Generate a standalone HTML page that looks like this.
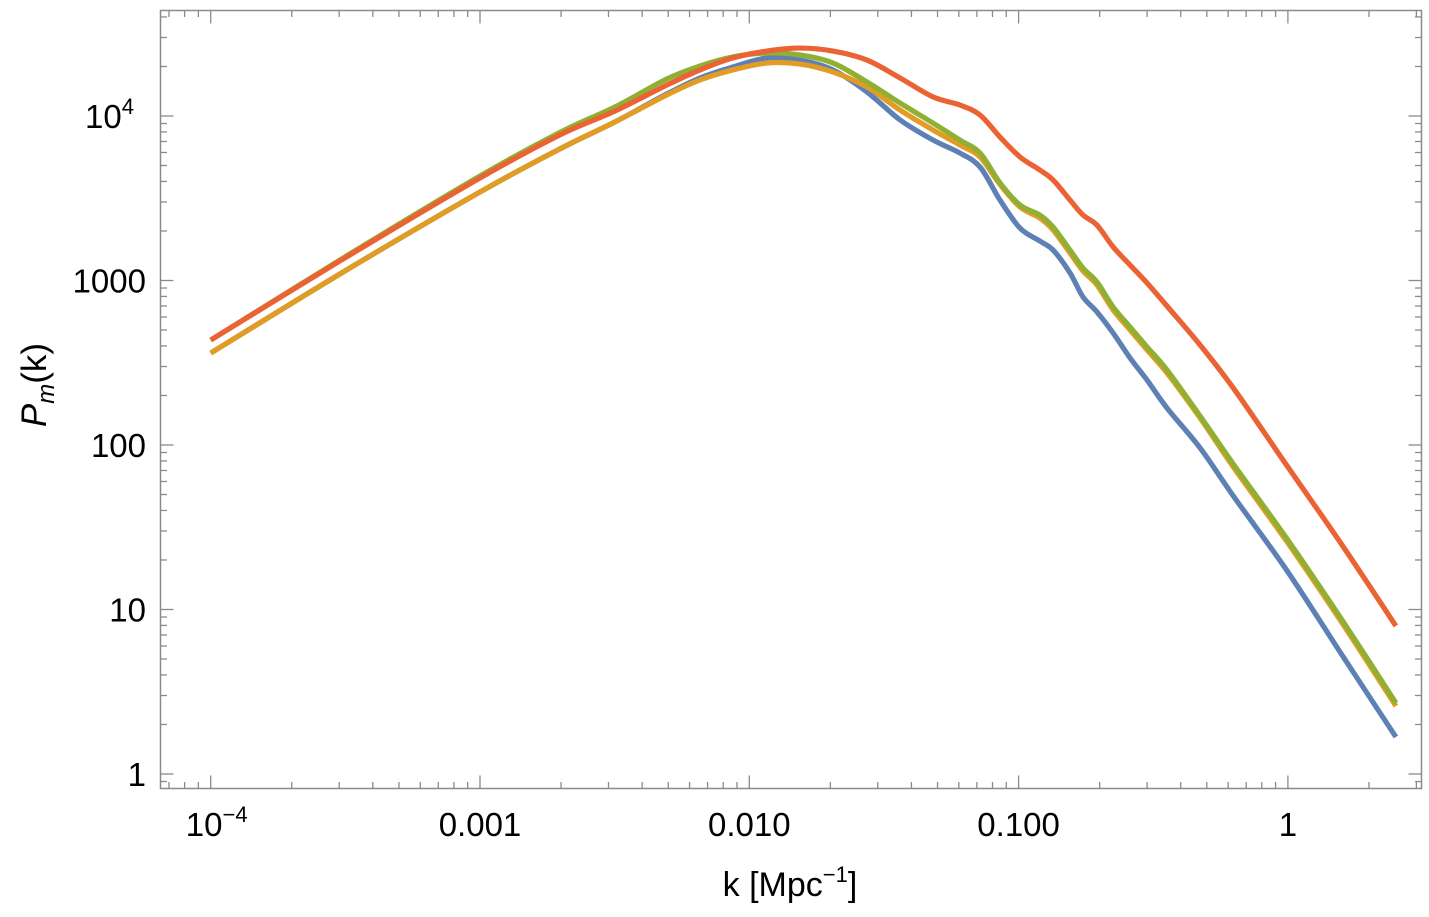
<!DOCTYPE html>
<html><head><meta charset="utf-8"><style>
html,body{margin:0;padding:0;background:#fff}
svg text{font-family:"Liberation Sans",Arial,sans-serif;fill:#000}
</style></head><body>
<svg id="chart" width="1429" height="912" viewBox="0 0 1429 912" xmlns="http://www.w3.org/2000/svg">
<rect x="0" y="0" width="1429" height="912" fill="#fff"/>
<g id="ticks"></g>
<g id="series"></g>
<rect x="160.5" y="10.5" width="1261" height="778" fill="none" stroke="#8a8a8a" stroke-width="1.5"/>
<g id="labels"></g>
<text x="790" y="896" font-size="34" text-anchor="middle">k [Mpc<tspan font-size="22" dy="-14">−1</tspan><tspan dy="14">]</tspan></text>
<text transform="translate(46,385) rotate(-90)" font-size="35" text-anchor="middle"><tspan font-style="italic">P</tspan><tspan font-style="italic" font-size="24" dy="8">m</tspan><tspan dy="-8">(k)</tspan></text>
</svg>
<script>
const kValues = [1e-4,3.15e-4,1e-3,1.98e-3,3.17e-3,4.94e-3,6.56e-3,8.69e-3,0.01164,0.01542,0.02046,0.02735,0.0363,0.0481,0.0605,0.0719,0.0853,0.1012,0.1199,0.1343,0.1552,0.1734,0.1954,0.2244,0.2594,0.2999,0.3556,0.472,0.631,1,1.589,2.518];
const log10P_blue = [2.559,3.058,3.538,3.800,3.964,4.134,4.231,4.298,4.353,4.340,4.280,4.146,3.976,3.854,3.775,3.690,3.489,3.319,3.240,3.185,3.046,2.900,2.809,2.681,2.529,2.395,2.225,1.982,1.684,1.228,0.723,0.225];
const log10P_orange = [2.559,3.058,3.538,3.800,3.964,4.128,4.219,4.280,4.322,4.316,4.267,4.176,4.036,3.915,3.824,3.751,3.584,3.447,3.380,3.307,3.167,3.058,2.973,2.821,2.699,2.578,2.438,2.164,1.860,1.404,0.918,0.413];
const log10P_green = [2.638,3.143,3.635,3.900,4.055,4.225,4.304,4.359,4.383,4.371,4.322,4.207,4.079,3.957,3.854,3.775,3.593,3.459,3.398,3.325,3.185,3.076,2.991,2.839,2.717,2.596,2.456,2.176,1.878,1.422,0.936,0.432];
const log10P_red = [2.638,3.137,3.623,3.885,4.030,4.188,4.280,4.353,4.395,4.413,4.395,4.340,4.231,4.116,4.067,4.006,3.872,3.751,3.672,3.611,3.489,3.398,3.337,3.204,3.094,2.985,2.845,2.608,2.340,1.866,1.392,0.900];
const xTickValues = [1e-4,1e-3,1e-2,1e-1,1];
const xTickLabels = ["10^-4","0.001","0.010","0.100","1"];
const yTickValues = [1,10,100,1000,10000];
const yTickLabels = ["1","10","100","1000","10^4"];

const NS="http://www.w3.org/2000/svg";
const X0=160.5,X1=1421.5,Y0=10.5,Y1=788.5;
function xScale(k){return 210.7+(Math.log10(k)+4)*269.3;}
function yScaleLog(lp){return 774-lp*164.5;}
function yScale(p){return yScaleLog(Math.log10(p));}
function mk(tag,attrs,parent){const e=document.createElementNS(NS,tag);for(const a in attrs)e.setAttribute(a,attrs[a]);parent.appendChild(e);return e;}

const tg=document.getElementById('ticks');
function tick(x1,y1,x2,y2,name){const l=mk('line',{x1:x1,y1:y1,x2:x2,y2:y2,stroke:'#8a8a8a','stroke-width':1.3},tg);

}
for(let e=-5;e<=0;e++){for(let m=1;m<=9;m++){const k=m*Math.pow(10,e);const x=xScale(k);if(x<X0+1||x>X1-1)continue;const L=m===1?13:6.5;
tick(x,Y1,x,Y1-L,'x-tick');tick(x,Y0,x,Y0+L,'x-tick-top');}}
for(let e=-1;e<=4;e++){for(let m=1;m<=9;m++){const p=m*Math.pow(10,e);const y=yScale(p);if(y<Y0+1||y>Y1-1)continue;const L=m===1?13:6.5;
tick(X0,y,X0+L,y,'y-tick');tick(X1,y,X1-L,y,'y-tick-right');}}

const lg=document.getElementById('labels');
function addLabel(str,x,y,anchor,name){const t=mk('text',{x:x,y:y,'font-size':33,'text-anchor':anchor},lg);


if(str.indexOf('^')>=0){const [b,s]=str.split('^');const a=document.createElementNS(NS,'tspan');a.textContent=b;t.appendChild(a);const sp=document.createElementNS(NS,'tspan');sp.setAttribute('font-size','22');sp.setAttribute('dy','-14');sp.textContent=s.replace('-','−');t.appendChild(sp);}else t.textContent=str;}
xTickValues.forEach((v,i)=>addLabel(xTickLabels[i],xScale(v)+(xTickLabels[i].indexOf('^')>=0?6:0),836,'middle','x-tick-label'));
yTickValues.forEach((v,i)=>addLabel(yTickLabels[i],yTickLabels[i].indexOf('^')>=0?134:146,yScale(v)+12,'end','y-tick-label'));

function pathFrom(ks,lps){const pts=ks.map((k,i)=>[xScale(k),yScaleLog(lps[i])]);let d='M'+pts[0][0].toFixed(2)+','+pts[0][1].toFixed(2);
for(let i=0;i<pts.length-1;i++){const p0=pts[i-1]||pts[i],p1=pts[i],p2=pts[i+1],p3=pts[i+2]||pts[i+1];
const c1=[p1[0]+(p2[0]-p0[0])/6,p1[1]+(p2[1]-p0[1])/6],c2=[p2[0]-(p3[0]-p1[0])/6,p2[1]-(p3[1]-p1[1])/6];
d+=' C'+c1[0].toFixed(2)+','+c1[1].toFixed(2)+' '+c2[0].toFixed(2)+','+c2[1].toFixed(2)+' '+p2[0].toFixed(2)+','+p2[1].toFixed(2);}return d;}
const sg=document.getElementById('series');
const seriesList=[[log10P_blue,'#5e81b5','series-blue'],[log10P_orange,'#e19c24','series-orange'],[log10P_green,'#8fb032','series-green'],[log10P_red,'#eb6235','series-red']];
seriesList.forEach(s=>{const p=mk('path',{d:pathFrom(kValues,s[0]),fill:'none',stroke:s[1],'stroke-width':5.2,'stroke-linejoin':'round'},sg);

});
</script>
</body></html>
